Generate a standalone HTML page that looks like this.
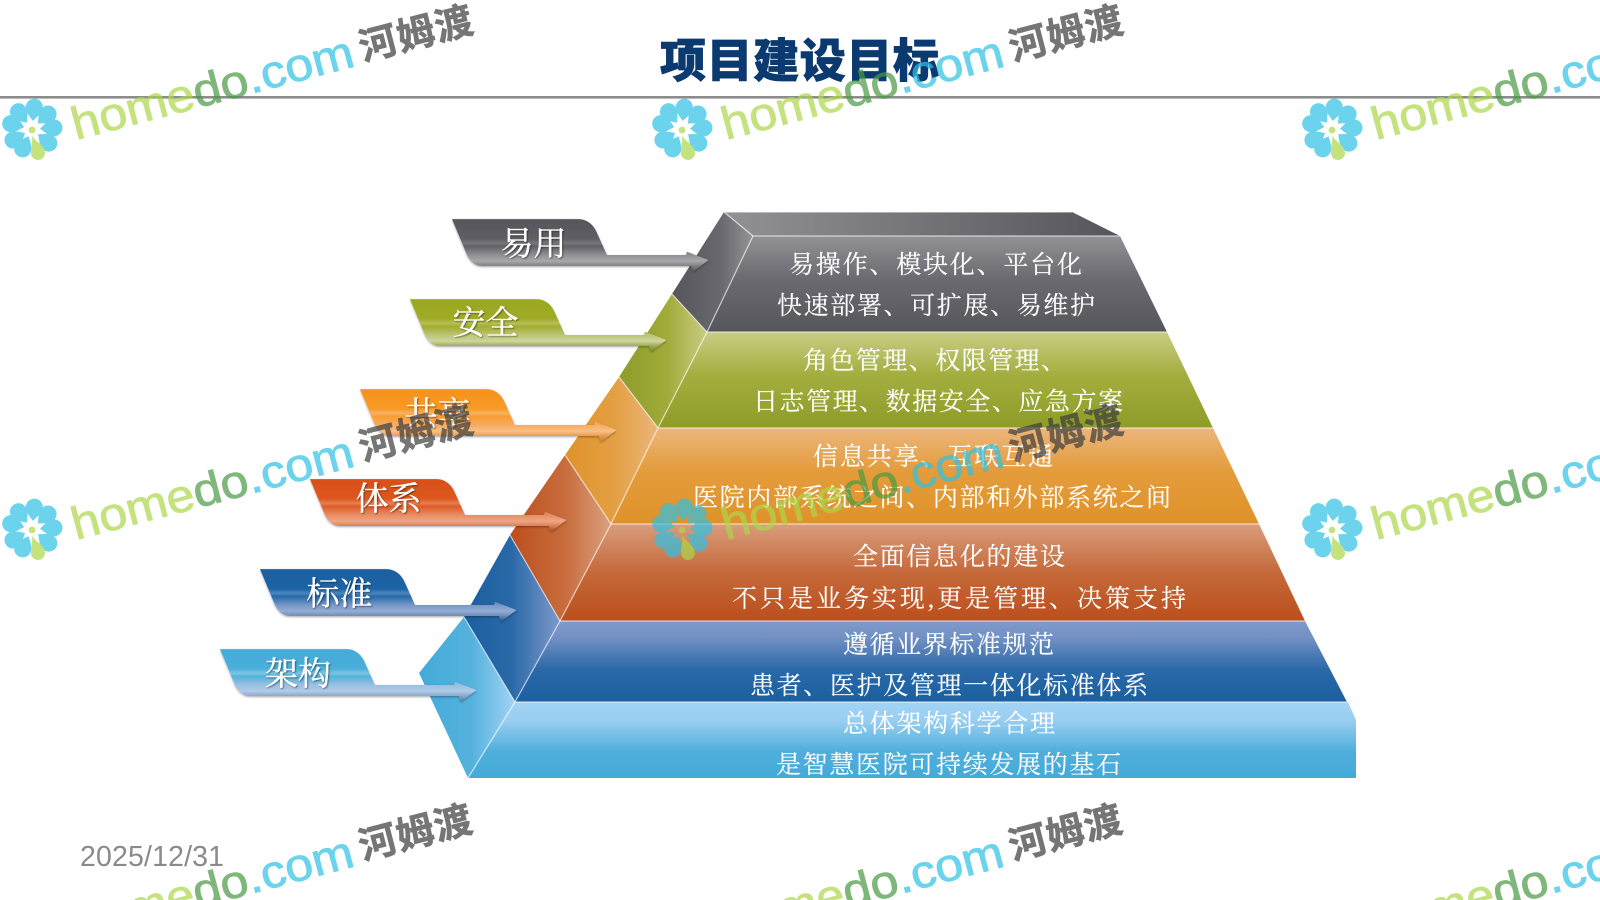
<!DOCTYPE html>
<html lang="zh">
<head>
<meta charset="utf-8">
<title>项目建设目标</title>
<style>
html,body{margin:0;padding:0;background:#fff;width:1600px;height:900px;overflow:hidden}
body{position:relative}
svg{display:block}
.t{font-family:"Liberation Serif","Noto Serif CJK SC",serif;font-size:25px;fill:#fff;stroke:#fff;stroke-width:.15}
.l{font-family:"Liberation Serif","Noto Serif CJK SC",serif;font-size:33px;fill:#fff;stroke:#fff;stroke-width:.3;text-anchor:middle;filter:url(#ts)}
.wa{font-family:"Liberation Sans",sans-serif;font-size:46px;stroke-width:.9;opacity:.7}
.wb{font-family:"Liberation Sans","Noto Sans CJK SC",sans-serif;font-size:38px;font-weight:700;fill:#3c3c3c;stroke:#3c3c3c;stroke-width:.6;opacity:.7}
.g1{fill:#acd849;stroke:#acd849}.g2{fill:#499a42;stroke:#499a42}.g3{fill:#2fc1e4;stroke:#2fc1e4}
.e{stroke:#fff;stroke-opacity:.65;stroke-width:1.2;fill:none}
#bot{position:absolute;left:0;top:800px;width:1600px;height:100px;overflow:hidden}
#bot div{position:absolute;white-space:nowrap;line-height:0;height:0;opacity:.7}
.ha{top:124.1px;font:46px/0 "Liberation Sans",sans-serif;transform-origin:0 15.9px;transform:rotate(-14.8deg) scaleX(1.09);-webkit-text-stroke-width:.9px}
.ha span:nth-child(1){color:#acd849}.ha span:nth-child(2){color:#499a42}.ha span:nth-child(3){color:#2fc1e4}
#bot .hb{top:47.8px;font:700 38px/0 "Liberation Sans","Noto Sans CJK SC",sans-serif;color:#3c3c3c;letter-spacing:.67px;transform-origin:0 13.2px;transform:rotate(-14.5deg);-webkit-text-stroke-width:.6px}
</style>
</head>
<body>
<svg width="1600" height="900" viewBox="0 0 1600 900" xmlns="http://www.w3.org/2000/svg">
<defs>
<filter id="ts" x="-20%" y="-20%" width="140%" height="140%"><feDropShadow dx="1" dy="1" stdDeviation=".7" flood-color="#000" flood-opacity=".45"/></filter>
<filter id="sh" x="-5%" y="-10%" width="110%" height="125%"><feDropShadow dx="0" dy="1" stdDeviation="1" flood-color="#000" flood-opacity=".35"/></filter>

<linearGradient id="f1" x1="0" y1="0" x2="0" y2="1"><stop offset="0" stop-color="#919196"/><stop offset=".45" stop-color="#6a6a70"/><stop offset="1" stop-color="#55555b"/></linearGradient>
<linearGradient id="f2" x1="0" y1="0" x2="0" y2="1"><stop offset="0" stop-color="#c9cd84"/><stop offset=".45" stop-color="#a3ae3e"/><stop offset="1" stop-color="#8f9c28"/></linearGradient>
<linearGradient id="f3" x1="0" y1="0" x2="0" y2="1"><stop offset="0" stop-color="#ebb67c"/><stop offset=".45" stop-color="#e49c3b"/><stop offset="1" stop-color="#df9229"/></linearGradient>
<linearGradient id="f4" x1="0" y1="0" x2="0" y2="1"><stop offset="0" stop-color="#d99d7c"/><stop offset=".5" stop-color="#c5693a"/><stop offset="1" stop-color="#bc4e1c"/></linearGradient>
<linearGradient id="f5" x1="0" y1="0" x2="0" y2="1"><stop offset="0" stop-color="#7f9acb"/><stop offset=".2" stop-color="#7391c4"/><stop offset=".6" stop-color="#2a69a8"/><stop offset="1" stop-color="#1a5f9f"/></linearGradient>
<linearGradient id="f6" x1="0" y1="0" x2="0" y2="1"><stop offset="0" stop-color="#a2d3f5"/><stop offset=".25" stop-color="#98cef1"/><stop offset=".65" stop-color="#4fafdb"/><stop offset="1" stop-color="#44aad8"/></linearGradient>

<linearGradient id="s1" x1="0" y1="0" x2="1" y2="0"><stop offset="0" stop-color="#55555b"/><stop offset=".6" stop-color="#68686e"/><stop offset="1" stop-color="#939398"/></linearGradient>
<linearGradient id="s2" x1="0" y1="0" x2="1" y2="0"><stop offset="0" stop-color="#8f9c28"/><stop offset=".55" stop-color="#a0ab3a"/><stop offset="1" stop-color="#c9cd84"/></linearGradient>
<linearGradient id="s3" x1="0" y1="0" x2="1" y2="0"><stop offset="0" stop-color="#df9229"/><stop offset=".55" stop-color="#e4a045"/><stop offset="1" stop-color="#ebb67c"/></linearGradient>
<linearGradient id="s4" x1="0" y1="0" x2="1" y2="0"><stop offset="0" stop-color="#bc4e1c"/><stop offset=".55" stop-color="#c86d3e"/><stop offset="1" stop-color="#dba080"/></linearGradient>
<linearGradient id="s5" x1="0" y1="0" x2="1" y2="0"><stop offset="0" stop-color="#1a5f9f"/><stop offset=".5" stop-color="#2a69a8"/><stop offset="1" stop-color="#7f9acb"/></linearGradient>
<linearGradient id="s6" x1="0" y1="0" x2="1" y2="0"><stop offset="0" stop-color="#44aad8"/><stop offset=".55" stop-color="#55b2dd"/><stop offset="1" stop-color="#a2d3f5"/></linearGradient>
<linearGradient id="top" x1="0" y1="0" x2="1" y2="0"><stop offset="0" stop-color="#919196"/><stop offset="1" stop-color="#55555b"/></linearGradient>

<linearGradient id="l1" x1="0" y1="0" x2="0" y2="1"><stop offset="0" stop-color="#707076"/><stop offset=".03" stop-color="#56565c"/><stop offset=".38" stop-color="#5e5e64"/><stop offset=".46" stop-color="#75757b"/><stop offset=".52" stop-color="#606066"/><stop offset=".68" stop-color="#8f8f93"/><stop offset=".8" stop-color="#a8a8ab"/><stop offset=".89" stop-color="#808084"/><stop offset="1" stop-color="#55555b"/></linearGradient>
<linearGradient id="l2" x1="0" y1="0" x2="0" y2="1"><stop offset="0" stop-color="#b5bb5a"/><stop offset=".03" stop-color="#9aa71f"/><stop offset=".38" stop-color="#a0ab28"/><stop offset=".46" stop-color="#b6c057"/><stop offset=".52" stop-color="#a2ad2e"/><stop offset=".68" stop-color="#bcc475"/><stop offset=".8" stop-color="#d0d59c"/><stop offset=".89" stop-color="#a0a95a"/><stop offset="1" stop-color="#7d8a1e"/></linearGradient>
<linearGradient id="l3" x1="0" y1="0" x2="0" y2="1"><stop offset="0" stop-color="#f9ab4f"/><stop offset=".03" stop-color="#f7921c"/><stop offset=".38" stop-color="#f89a28"/><stop offset=".46" stop-color="#fab163"/><stop offset=".52" stop-color="#f99c30"/><stop offset=".68" stop-color="#f6ab62"/><stop offset=".8" stop-color="#f9c085"/><stop offset=".89" stop-color="#e99c55"/><stop offset="1" stop-color="#c97f2a"/></linearGradient>
<linearGradient id="l4" x1="0" y1="0" x2="0" y2="1"><stop offset="0" stop-color="#de6a3c"/><stop offset=".03" stop-color="#d94f18"/><stop offset=".38" stop-color="#dd5820"/><stop offset=".46" stop-color="#e77e54"/><stop offset=".52" stop-color="#de5c26"/><stop offset=".68" stop-color="#e88c64"/><stop offset=".8" stop-color="#f0a585"/><stop offset=".89" stop-color="#d98055"/><stop offset="1" stop-color="#a84d22"/></linearGradient>
<linearGradient id="l5" x1="0" y1="0" x2="0" y2="1"><stop offset="0" stop-color="#3d7ab5"/><stop offset=".03" stop-color="#1a5f9f"/><stop offset=".38" stop-color="#1e65a6"/><stop offset=".46" stop-color="#4e86bd"/><stop offset=".52" stop-color="#2269aa"/><stop offset=".68" stop-color="#7796c6"/><stop offset=".8" stop-color="#94add4"/><stop offset=".89" stop-color="#6f8dba"/><stop offset="1" stop-color="#1f4f86"/></linearGradient>
<linearGradient id="l6" x1="0" y1="0" x2="0" y2="1"><stop offset="0" stop-color="#68bce0"/><stop offset=".03" stop-color="#44aad8"/><stop offset=".38" stop-color="#4cafdb"/><stop offset=".46" stop-color="#7cc5e6"/><stop offset=".52" stop-color="#52b3dc"/><stop offset=".68" stop-color="#9abfe2"/><stop offset=".8" stop-color="#b0cce8"/><stop offset=".89" stop-color="#8ba8cc"/><stop offset="1" stop-color="#4f7fa8"/></linearGradient>

<g id="fl" opacity=".7">
<g fill="#2fc1e4">
<path d="M0,-8C-3,-12 -8.5,-16 -8.5,-22A8.5,8.5 0 0 1 8.5,-22C8.5,-16 3,-12 0,-8Z" transform="rotate(6)"/>
<path d="M0,-8C-3,-12 -8.5,-16 -8.5,-22A8.5,8.5 0 0 1 8.5,-22C8.5,-16 3,-12 0,-8Z" transform="rotate(47)"/>
<path d="M0,-8C-3,-12 -8.5,-16 -8.5,-22A8.5,8.5 0 0 1 8.5,-22C8.5,-16 3,-12 0,-8Z" transform="rotate(87)"/>
<path d="M0,-8C-3,-12 -8.5,-16 -8.5,-22A8.5,8.5 0 0 1 8.5,-22C8.5,-16 3,-12 0,-8Z" transform="rotate(130)"/>
<path d="M0,-8C-3,-12 -8.5,-16 -8.5,-22A8.5,8.5 0 0 1 8.5,-22C8.5,-16 3,-12 0,-8Z" transform="rotate(-155)"/>
<path d="M0,-8C-3,-12 -8.5,-16 -8.5,-22A8.5,8.5 0 0 1 8.5,-22C8.5,-16 3,-12 0,-8Z" transform="rotate(-120)"/>
<path d="M0,-8C-3,-12 -8.5,-16 -8.5,-22A8.5,8.5 0 0 1 8.5,-22C8.5,-16 3,-12 0,-8Z" transform="rotate(-76)"/>
<path d="M0,-8C-3,-12 -8.5,-16 -8.5,-22A8.5,8.5 0 0 1 8.5,-22C8.5,-16 3,-12 0,-8Z" transform="rotate(-38)"/>
</g>
<g fill="#acd849">
<path d="M0,6C2,12 13,16 13,24A7,7 0 0 1 -1,24C-1,17 1,12 0,6Z"/>
<circle cx="0" cy="1" r="3.4"/>
</g>
</g>
</defs>

<rect width="1600" height="900" fill="#fff"/>
<rect x="0" y="96" width="1600" height="2.6" fill="#8c8c8c"/>
<text x="660" y="77" font-family="'Liberation Sans','Noto Sans CJK SC',sans-serif" font-size="46" font-weight="900" fill="#0b3a70" stroke="#0b3a70" stroke-width=".8" textLength="279" lengthAdjust="spacing">项目建设目标</text>
<text x="80" y="866" font-family="'Liberation Sans',sans-serif" font-size="28.5" fill="#8a8a8a" textLength="144" lengthAdjust="spacing">2025/12/31</text>

<!-- pyramid -->
<polygon points="724,212 1072,212 1120,236 753,236" fill="url(#top)"/>
<polygon points="753,236 1120,236 1167,332 707,332" fill="url(#f1)"/>
<polygon points="707,332 1167,332 1213,428 658,428" fill="url(#f2)"/>
<polygon points="658,428 1213,428 1259,524 611,524" fill="url(#f3)"/>
<polygon points="611,524 1259,524 1305,621 560,621" fill="url(#f4)"/>
<polygon points="560,621 1305,621 1347,702 515,702" fill="url(#f5)"/>
<polygon points="515,702 1348,702 1356,720 1356,778 468,778" fill="url(#f6)"/>

<polygon points="724,212 753,236 707,332 672,294" fill="url(#s1)"/>
<polygon points="672,294 707,332 658,428 619,377" fill="url(#s2)"/>
<polygon points="619,377 658,428 611,524 565,455" fill="url(#s3)"/>
<polygon points="565,455 611,524 560,621 510,535" fill="url(#s4)"/>
<polygon points="510,535 560,621 515,702 464,617" fill="url(#s5)"/>
<polygon points="464,617 515,702 468,778 419,673" fill="url(#s6)"/>

<g class="e">
<path d="M724,212L1072,212M724,212L753,236L1120,236"/>
<path d="M753,236L707,332L658,428L611,524L560,621L515,702L468,778"/>
<path d="M707,332L1167,332M658,428L1213,428M611,524L1259,524M560,621L1305,621M515,702L1347,702"/>
<path d="M672,294L707,332M619,377L658,428M565,455L611,524M510,535L560,621M464,617L515,702"/>
</g>

<!-- tier text -->
<g class="t">
<text x="789" y="273" textLength="293" lengthAdjust="spacing">易操作、模块化、平台化</text>
<text x="777" y="314" textLength="318" lengthAdjust="spacing">快速部署、可扩展、易维护</text>
<text x="803" y="369" textLength="263" lengthAdjust="spacing">角色管理、权限管理、</text>
<text x="753" y="410" textLength="370" lengthAdjust="spacing">日志管理、数据安全、应急方案</text>
<text x="813" y="465" textLength="240" lengthAdjust="spacing">信息共享、互联互通</text>
<text x="693" y="506" textLength="478" lengthAdjust="spacing">医院内部系统之间、内部和外部系统之间</text>
<text x="853" y="565" textLength="212" lengthAdjust="spacing">全面信息化的建设</text>
<text x="732" y="607" textLength="454" lengthAdjust="spacing">不只是业务实现,更是管理、决策支持</text>
<text x="843" y="653" textLength="211" lengthAdjust="spacing">遵循业界标准规范</text>
<text x="750" y="694" textLength="398" lengthAdjust="spacing">患者、医护及管理一体化标准体系</text>
<text x="843" y="732" textLength="212" lengthAdjust="spacing">总体架构科学合理</text>
<text x="776" y="773" textLength="345" lengthAdjust="spacing">是智慧医院可持续发展的基石</text>
</g>

<!-- labels -->
<g filter="url(#sh)">
<path d="M0,0L126,0C135,0 142,6 145,14L155,36L234,36L235,32.7L256.5,41L241,52.7L239,47L30,47C23,47 18,42 15,36Z" transform="translate(452,219)" fill="url(#l1)"/>
<path d="M0,0L126,0C135,0 142,6 145,14L155,36L234,36L235,32.7L256.5,41L241,52.7L239,47L30,47C23,47 18,42 15,36Z" transform="translate(410,299)" fill="url(#l2)"/>
<path d="M0,0L126,0C135,0 142,6 145,14L155,36L234,36L235,32.7L256.5,41L241,52.7L239,47L30,47C23,47 18,42 15,36Z" transform="translate(360,389)" fill="url(#l3)"/>
<path d="M0,0L126,0C135,0 142,6 145,14L155,36L234,36L235,32.7L256.5,41L241,52.7L239,47L30,47C23,47 18,42 15,36Z" transform="translate(310,479)" fill="url(#l4)"/>
<path d="M0,0L126,0C135,0 142,6 145,14L155,36L234,36L235,32.7L256.5,41L241,52.7L239,47L30,47C23,47 18,42 15,36Z" transform="translate(260,569)" fill="url(#l5)"/>
<path d="M0,0L126,0C135,0 142,6 145,14L155,36L234,36L235,32.7L256.5,41L241,52.7L239,47L30,47C23,47 18,42 15,36Z" transform="translate(220,649)" fill="url(#l6)"/>
</g>
<text class="l" x="533.5" y="255">易用</text>
<text class="l" x="485.5" y="334">安全</text>
<text class="l" x="437.5" y="425">共享</text>
<text class="l" x="388.5" y="510">体系</text>
<text class="l" x="339.5" y="605">标准</text>
<text class="l" x="298" y="685">架构</text>

<!-- watermark tiles -->
<g transform="translate(0,0)"><use href="#fl" x="32" y="129"/><g transform="translate(76,140) rotate(-14.8)"><text class="wa" textLength="290" lengthAdjust="spacingAndGlyphs"><tspan class="g1">home</tspan><tspan class="g2">do</tspan><tspan class="g3">.com</tspan></text></g><text class="wb" transform="translate(363,61) rotate(-14.5)" textLength="116">河姆渡</text></g>
<g transform="translate(650,0)"><use href="#fl" x="32" y="129"/><g transform="translate(76,140) rotate(-14.8)"><text class="wa" textLength="290" lengthAdjust="spacingAndGlyphs"><tspan class="g1">home</tspan><tspan class="g2">do</tspan><tspan class="g3">.com</tspan></text></g><text class="wb" transform="translate(363,61) rotate(-14.5)" textLength="116">河姆渡</text></g>
<g transform="translate(1300,0)"><use href="#fl" x="32" y="129"/><g transform="translate(76,140) rotate(-14.8)"><text class="wa" textLength="290" lengthAdjust="spacingAndGlyphs"><tspan class="g1">home</tspan><tspan class="g2">do</tspan><tspan class="g3">.com</tspan></text></g></g>
<g transform="translate(0,400)"><use href="#fl" x="32" y="129"/><g transform="translate(76,140) rotate(-14.8)"><text class="wa" textLength="290" lengthAdjust="spacingAndGlyphs"><tspan class="g1">home</tspan><tspan class="g2">do</tspan><tspan class="g3">.com</tspan></text></g><text class="wb" transform="translate(363,61) rotate(-14.5)" textLength="116">河姆渡</text></g>
<g transform="translate(650,400)"><use href="#fl" x="32" y="129"/><g transform="translate(76,140) rotate(-14.8)"><text class="wa" textLength="290" lengthAdjust="spacingAndGlyphs"><tspan class="g1">home</tspan><tspan class="g2">do</tspan><tspan class="g3">.com</tspan></text></g><text class="wb" transform="translate(363,61) rotate(-14.5)" textLength="116">河姆渡</text></g>
<g transform="translate(1300,400)"><use href="#fl" x="32" y="129"/><g transform="translate(76,140) rotate(-14.8)"><text class="wa" textLength="290" lengthAdjust="spacingAndGlyphs"><tspan class="g1">home</tspan><tspan class="g2">do</tspan><tspan class="g3">.com</tspan></text></g></g>
</svg>
<div id="bot">
<div class="ha" style="left:76px"><span>home</span><span>do</span><span>.com</span></div>
<div class="ha" style="left:726px"><span>home</span><span>do</span><span>.com</span></div>
<div class="ha" style="left:1376px"><span>home</span><span>do</span><span>.com</span></div>
<div class="hb" style="left:363px">河姆渡</div>
<div class="hb" style="left:1013px">河姆渡</div>
</div>
</body>
</html>
